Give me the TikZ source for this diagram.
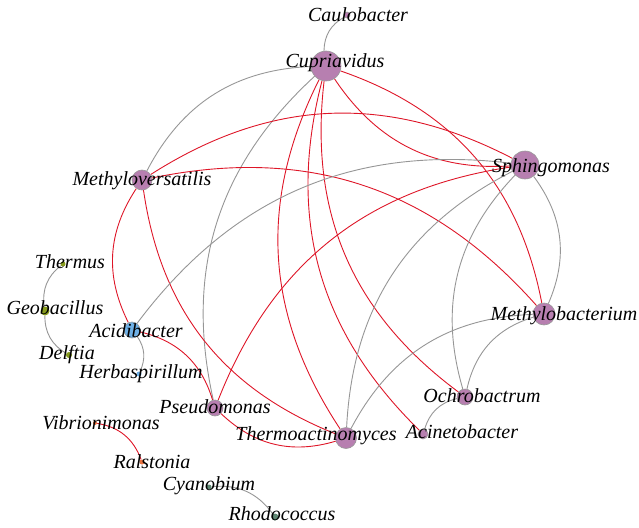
\documentclass[tikz,border=0pt]{standalone}
\usepackage{fontspec}
\setmainfont{Liberation Serif}
\usetikzlibrary{backgrounds}
\definecolor{purp}{RGB}{183,127,176}
\definecolor{sky}{RGB}{110,176,230}
\definecolor{grn}{RGB}{135,155,30}
\definecolor{orng}{RGB}{232,115,65}
\definecolor{tl}{RGB}{95,135,115}
\definecolor{edgered}{RGB}{222,22,40}
\definecolor{edgegray}{RGB}{150,150,150}
\begin{document}
\begin{tikzpicture}[x=1pt,y=-1pt,
  dot/.style={circle,draw=gray!80,line width=.6pt,inner sep=0pt},
  lbl/.style={anchor=base,inner sep=0pt,font=\fontsize{20}{24}\selectfont\itshape},
  redge/.style={draw=edgered,line width=.9pt,bend left=30},
  gedge/.style={draw=edgegray,line width=.9pt,bend left=30}]
\useasboundingbox (0,0) rectangle (639,527);
% nodes
\node[dot,fill=purp,minimum size=6pt]  (Cau) at (347,15) {};
\node[dot,fill=purp,minimum size=30pt] (Cup) at (326,66) {};
\node[dot,fill=purp,minimum size=20pt] (Mvs) at (142,180) {};
\node[dot,fill=purp,minimum size=28pt] (Sph) at (525,165) {};
\node[dot,fill=purp,minimum size=22pt] (Mbm) at (544,314) {};
\node[dot,fill=purp,minimum size=16pt] (Och) at (465,397) {};
\node[dot,fill=purp,minimum size=10pt] (Aci) at (423,434) {};
\node[dot,fill=purp,minimum size=21pt] (Tha) at (346,438) {};
\node[dot,fill=purp,minimum size=16pt] (Pse) at (215,408) {};
\node[dot,fill=sky,minimum size=16pt]  (Acb) at (132,330) {};
\node[dot,fill=sky,draw=none,minimum size=5pt] (Her) at (139,374) {};
\node[dot,fill=grn,draw=none,minimum size=5pt] (Ths) at (63,264) {};
\node[dot,fill=grn,draw=none,minimum size=9pt] (Geo) at (45,311) {};
\node[dot,fill=grn,draw=none,minimum size=6pt] (Del) at (69,355) {};
\node[dot,fill=orng,draw=none,minimum size=4pt] (Vib) at (95,423) {};
\node[dot,fill=orng,draw=none,minimum size=5pt] (Ral) at (142,462) {};
\node[dot,fill=tl,draw=none,minimum size=5pt] (Cya) at (209,487) {};
\node[dot,fill=tl,draw=none,minimum size=7pt] (Rho) at (275,517) {};
% links
\begin{scope}[on background layer]
\draw[gedge] (Cup) to (Cau);
\draw[gedge] (Mvs) to (Cup);
\draw[gedge] (Pse) to (Cup);
\draw[redge] (Tha) to (Cup);
\draw[redge] (Aci) to (Cup);
\draw[redge] (Och) to (Cup);
\draw[redge] (Cup) to (Mbm);
\draw[redge] (Sph) to (Cup);
\draw[redge] (Mvs) to (Sph);
\draw[redge] (Mvs) to (Mbm);
\draw[redge] (Acb) to (Mvs);
\draw[redge] (Tha) to (Mvs);
\draw[gedge] (Acb) to (Sph);
\draw[gedge] (Acb) to (Her);
\draw[redge] (Acb) to (Pse);
\draw[redge] (Pse) to (Sph);
\draw[redge] (Tha) to (Pse);
\draw[gedge] (Tha) to (Sph);
\draw[gedge] (Tha) to (Mbm);
\draw[gedge] (Och) to (Sph);
\draw[gedge] (Sph) to (Mbm);
\draw[gedge] (Och) to (Mbm);
\draw[gedge] (Aci) to (Och);
\draw[gedge] (Geo) to (Ths);
\draw[gedge] (Del) to (Geo);
\draw[redge] (Vib) to (Ral);
\draw[gedge] (Cya) to (Rho);
\end{scope}
% labels
\node[lbl] (CauL) at (358,22) {Caulobacter};
\node[lbl] (CupL) at (335,67) {Cupriavidus};
\node[lbl] (MvsL) at (142,185) {Methyloversatilis};
\node[lbl] (SphL) at (551,172) {Sphingomonas};
\node[lbl] (MbmL) at (564,320) {Methylobacterium};
\node[lbl] (OchL) at (482,402) {Ochrobactrum};
\node[lbl] (AciL) at (462,438) {Acinetobacter};
\node[lbl] (ThaL) at (316,440) {Thermoactinomyces};
\node[lbl] (PseL) at (215,413) {Pseudomonas};
\node[lbl] (AcbL) at (136,337) {Acidibacter};
\node[lbl] (HerL) at (141,378) {Herbaspirillum};
\node[lbl] (ThsL) at (70,268) {Thermus};
\node[lbl] (GeoL) at (55,314) {Geobacillus};
\node[lbl] (DelL) at (67,359) {Delftia};
\node[lbl] (VibL) at (101,429) {Vibrionimonas};
\node[lbl] (RalL) at (152,468) {Ralstonia};
\node[lbl] (CyaL) at (209,490) {Cyanobium};
\node[lbl] (RhoL) at (282,520) {Rhodococcus};
\end{tikzpicture}
\end{document}
